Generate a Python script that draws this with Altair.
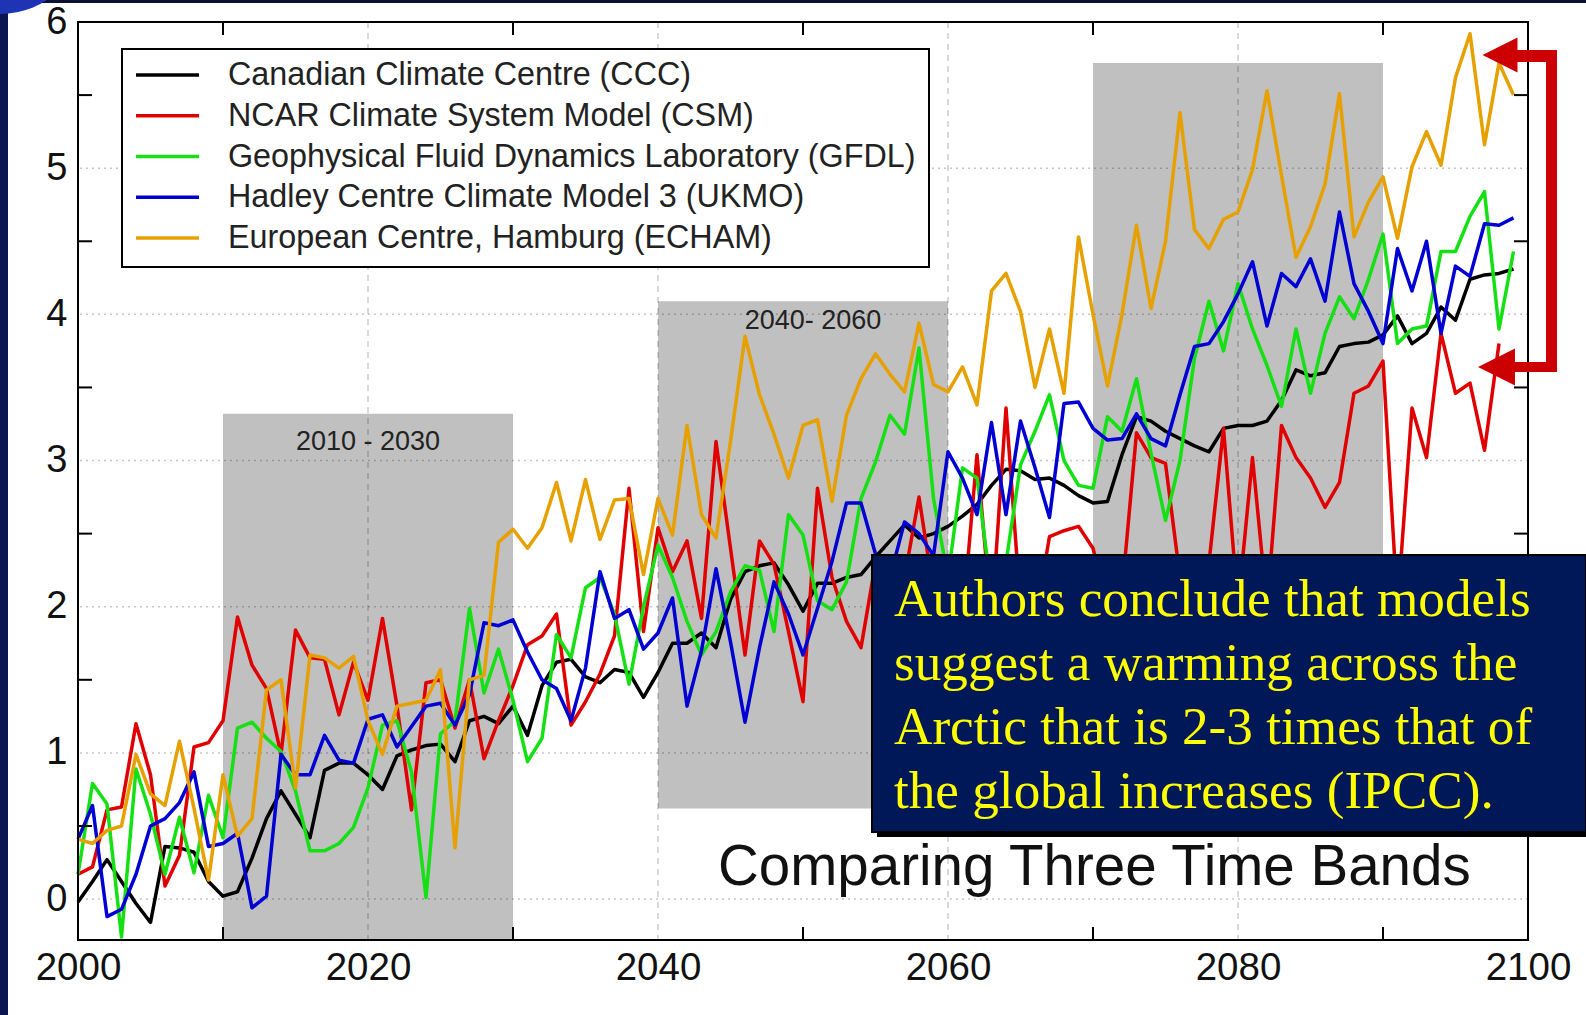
import altair as alt
import pandas as pd

# ---------------------------------------------------------------------------
# Data: projected Arctic warming (deg C) from five climate models, 2000-2099
# ---------------------------------------------------------------------------
YEARS = list(range(2000, 2100))

SERIES = [
    "Canadian Climate Centre (CCC)",
    "NCAR Climate System Model (CSM)",
    "Geophysical Fluid Dynamics Laboratory (GFDL)",
    "Hadley Centre Climate Model 3 (UKMO)",
    "European Centre, Hamburg (ECHAM)",
]
COLORS = ["#000000", "#e00000", "#14e014", "#0000d2", "#e6a000"]

CCC = [
    -0.02, 0.12, 0.27, 0.12, -0.03, -0.16, 0.36, 0.35, 0.32, 0.12,
    0.02, 0.05, 0.28, 0.55, 0.74, 0.58, 0.42, 0.88, 0.93, 0.93,
    0.85, 0.75, 0.98, 1.02, 1.05, 1.06, 0.94, 1.22, 1.25, 1.20,
    1.32, 1.12, 1.46, 1.62, 1.64, 1.52, 1.48, 1.57, 1.55, 1.38,
    1.55, 1.75, 1.75, 1.82, 1.72, 2.05, 2.24, 2.28, 2.30, 2.15,
    1.97, 2.16, 2.16, 2.20, 2.22, 2.34, 2.45, 2.56, 2.47, 2.50,
    2.55, 2.62, 2.70, 2.83, 2.94, 2.93, 2.87, 2.88, 2.83, 2.76,
    2.71, 2.72, 3.04, 3.30, 3.27, 3.20, 3.15, 3.10, 3.06, 3.22,
    3.24, 3.24, 3.27, 3.41, 3.62, 3.58, 3.60, 3.78, 3.80, 3.81,
    3.86, 3.99, 3.80, 3.87, 4.05, 3.96, 4.24, 4.27, 4.28, 4.31,
]
CSM = [
    0.17, 0.22, 0.61, 0.63, 1.20, 0.85, 0.09, 0.30, 1.04, 1.07,
    1.22, 1.93, 1.60, 1.44, 0.99, 1.84, 1.65, 1.64, 1.26, 1.62,
    1.36, 1.92, 1.32, 0.61, 1.48, 1.50, 1.17, 1.50, 0.96, 1.22,
    1.46, 1.74, 1.80, 1.95, 1.19, 1.35, 1.54, 1.80, 2.81, 1.83,
    2.54, 2.24, 2.45, 1.92, 3.13, 2.40, 1.67, 2.45, 2.29, 1.83,
    1.35, 2.81, 2.20, 1.90, 1.72, 2.30, 1.95, 2.20, 2.75, 2.10,
    2.30, 1.90, 3.04, 1.90, 3.36, 2.00, 1.90, 2.48, 2.52, 2.55,
    2.40, 2.00, 2.10, 3.19, 3.02, 2.98, 2.20, 2.00, 2.30, 3.22,
    2.00, 3.02, 2.00, 3.24, 3.02, 2.88, 2.68, 2.85, 3.46, 3.51,
    3.68, 2.00, 3.36, 3.02, 3.87, 3.46, 3.53, 3.07, 3.80,
]
GFDL = [
    0.17, 0.79, 0.65, -0.26, 0.89, 0.58, 0.17, 0.56, 0.18, 0.71,
    0.42, 1.17, 1.21, 1.10, 1.01, 0.74, 0.33, 0.33, 0.38, 0.49,
    0.76, 1.19, 1.22, 0.87, 0.01, 1.13, 1.22, 1.99, 1.41, 1.71,
    1.36, 0.94, 1.10, 1.81, 1.65, 2.13, 2.20, 1.95, 1.47, 2.00,
    2.42, 2.20, 1.90, 1.67, 1.83, 2.10, 2.28, 2.25, 1.83, 2.63,
    2.49, 2.04, 1.98, 2.17, 2.74, 2.99, 3.31, 3.18, 3.77, 2.74,
    2.20, 2.95, 2.88, 2.10, 2.30, 2.97, 3.20, 3.45, 3.00, 2.83,
    2.81, 3.30, 3.20, 3.56, 3.05, 2.59, 3.00, 3.70, 4.09, 3.75,
    4.21, 3.90, 3.65, 3.37, 3.90, 3.46, 3.87, 4.12, 3.97, 4.24,
    4.55, 3.80, 3.90, 3.92, 4.43, 4.43, 4.67, 4.84, 3.90, 4.43,
]
UKMO = [
    0.41, 0.64, -0.12, -0.07, 0.17, 0.50, 0.55, 0.66, 0.87, 0.36,
    0.38, 0.45, -0.06, 0.02, 0.99, 0.85, 0.85, 1.12, 0.95, 0.93,
    1.23, 1.26, 1.04, 1.18, 1.32, 1.34, 1.19, 1.40, 1.89, 1.87,
    1.91, 1.69, 1.50, 1.44, 1.22, 1.58, 2.24, 1.92, 1.98, 1.71,
    1.82, 2.06, 1.32, 1.70, 2.26, 1.76, 1.21, 1.72, 2.17, 1.95,
    1.67, 1.99, 2.31, 2.71, 2.71, 2.36, 2.20, 2.58, 2.50, 2.35,
    3.06, 2.88, 2.63, 3.26, 2.63, 3.27, 2.95, 2.61, 3.39, 3.40,
    3.22, 3.14, 3.15, 3.32, 3.15, 3.10, 3.45, 3.78, 3.80, 3.95,
    4.14, 4.36, 3.92, 4.28, 4.19, 4.38, 4.09, 4.70, 4.21, 4.02,
    3.80, 4.45, 4.16, 4.50, 3.87, 4.33, 4.26, 4.62, 4.61, 4.66,
]
ECHAM = [
    0.41, 0.38, 0.47, 0.50, 0.99, 0.72, 0.64, 1.08, 0.62, 0.13,
    0.85, 0.43, 0.55, 1.43, 1.50, 0.76, 1.67, 1.65, 1.58, 1.66,
    1.22, 0.99, 1.32, 1.34, 1.36, 1.57, 0.35, 1.50, 1.53, 2.44,
    2.53, 2.40, 2.54, 2.85, 2.45, 2.87, 2.46, 2.73, 2.74, 2.22,
    2.74, 2.49, 3.24, 2.63, 2.47, 3.13, 3.85, 3.45, 3.18, 2.88,
    3.24, 3.28, 2.72, 3.31, 3.56, 3.73, 3.59, 3.47, 3.94, 3.52,
    3.47, 3.64, 3.38, 4.16, 4.28, 4.02, 3.50, 3.90, 3.46, 4.53,
    4.00, 3.51, 4.00, 4.61, 4.04, 4.50, 5.38, 4.58, 4.45, 4.65,
    4.70, 4.99, 5.53, 4.95, 4.39, 4.60, 4.89, 5.51, 4.53, 4.77,
    4.94, 4.52, 5.01, 5.25, 5.02, 5.62, 5.92, 5.16, 5.72, 5.50,
]

# Highlighted time bands
BAND_START = [2010, 2040, 2070]
BAND_END = [2030, 2060, 2090]
BAND_TOP = [3.32, 4.09, 5.72]
BAND_BOTTOM = [-0.28, 0.62, 0.62]
BAND_LABELS = ["2010 - 2030", "2040- 2060", ""]

# Axes, ticks and grid
Y_LABELS = [0, 1, 2, 3, 4, 5, 6]
X_LABELS = [2000, 2020, 2040, 2060, 2080, 2100]
Y_MINOR = [0.5, 1.5, 2.5, 3.5, 4.5, 5.5]
X_MINOR = [2010, 2030, 2050, 2070, 2090]
Y_GRID = [0, 1, 2, 3, 4, 5]
X_GRID = [2020, 2040, 2060, 2080]

NOTE = [
    "Authors conclude that models",
    "suggest a warming across the",
    "Arctic that is 2-3 times that of",
    "the global increases (IPCC).",
]
SUBTITLE = "Comparing Three Time Bands"

# ---------------------------------------------------------------------------
SANS = "Liberation Sans, Arial, Helvetica, sans-serif"
SERIF = "Liberation Serif, Times New Roman, serif"
W, H = 1450, 918

xs = alt.Scale(domain=[2000, 2100], nice=False, zero=False)
ys = alt.Scale(domain=[-0.28, 6], nice=False, zero=False)
X_AX = alt.Axis(values=X_LABELS, format="d", title=None, ticks=False, tickSize=0,
                domain=False, grid=False, labelFont=SANS, labelFontSize=38.5,
                labelColor="#111111", labelPadding=9, labelFlush=False,
                labelOverlap=False)
Y_AX = alt.Axis(values=Y_LABELS, format="d", title=None, ticks=False, tickSize=0,
                domain=False, grid=False, labelFont=SANS, labelFontSize=38,
                labelColor="#111111", labelPadding=11, labelFlush=False,
                labelOverlap=False)

one = pd.DataFrame({"k": [0]})


def px_rect(x, x2, y, y2, **kw):
    return alt.Chart(one).mark_rect(**kw).encode(
        x=alt.value(x), x2=alt.value(x2), y=alt.value(y), y2=alt.value(y2))


def px_rule(x, x2, y, y2, **kw):
    return alt.Chart(one).mark_rule(**kw).encode(
        x=alt.value(x), x2=alt.value(x2), y=alt.value(y), y2=alt.value(y2))


def px_text(txt, x, y, **kw):
    return alt.Chart(one).mark_text(**kw).encode(
        x=alt.value(x), y=alt.value(y), text=alt.value(txt))


layers = []

# Slide frame around the figure
layers.append(px_rect(-78, -70, -22, 993, fill="#0b1650"))
layers.append(px_rect(-78, W + 58, -22, -19, fill="#0a0f35"))
layers.append(alt.Chart(one).mark_point(shape="circle", filled=True, size=29584,
                                         color="#1f33b5", opacity=1, strokeWidth=0)
              .encode(x=alt.value(-78), y=alt.value(-94)))

# Time bands
band_df = pd.DataFrame({"start": BAND_START, "end": BAND_END, "top": BAND_TOP,
                        "bottom": BAND_BOTTOM, "label": BAND_LABELS,
                        "idx": list(range(len(BAND_START)))})
layers.append(alt.Chart(band_df).mark_rect(color="#c0c0c0").encode(
    x=alt.X("start:Q", scale=xs, axis=X_AX), x2="end:Q",
    y=alt.Y("top:Q", scale=ys, axis=Y_AX), y2="bottom:Q"))

# Grid lines
layers.append(alt.Chart(pd.DataFrame({"v": Y_GRID})).mark_rule(
    color="#000000", opacity=0.22, strokeWidth=1.5, strokeDash=[2, 4]).encode(
    y=alt.Y("v:Q", scale=ys, axis=Y_AX)))
layers.append(alt.Chart(pd.DataFrame({"yr": X_GRID})).mark_rule(
    color="#000000", opacity=0.2, strokeWidth=1.5, strokeDash=[6, 5]).encode(
    x=alt.X("yr:Q", scale=xs, axis=X_AX)))

# Model curves (drawn in legend order, last on top)
rows = []
for name, vals in zip(SERIES, [CCC, CSM, GFDL, UKMO, ECHAM]):
    for yr, v in zip(YEARS, vals):
        rows.append({"year": yr, "value": v, "model": name})
lines_df = pd.DataFrame(rows)
for name in SERIES:
    layers.append(alt.Chart(lines_df).transform_filter(
        alt.datum.model == name).mark_line(strokeWidth=3.5, strokeJoin="round").encode(
        x=alt.X("year:Q", scale=xs, axis=X_AX),
        y=alt.Y("value:Q", scale=ys, axis=Y_AX),
        color=alt.Color("model:N", scale=alt.Scale(domain=SERIES, range=COLORS),
                        legend=None)))

# Inward ticks on all four sides
ymin_df = pd.DataFrame({"v": Y_MINOR})
xmin_df = pd.DataFrame({"yr": X_MINOR})
for a, b in [(0, 14), (W - 14, W)]:
    layers.append(alt.Chart(ymin_df).mark_rule(color="#000000", strokeWidth=2).encode(
        y=alt.Y("v:Q", scale=ys, axis=Y_AX), x=alt.value(a), x2=alt.value(b)))
for a, b in [(0, 13), (H - 13, H)]:
    layers.append(alt.Chart(xmin_df).mark_rule(color="#000000", strokeWidth=2).encode(
        x=alt.X("yr:Q", scale=xs, axis=X_AX), y=alt.value(a), y2=alt.value(b)))

# Plot frame
layers.append(px_rect(0, W, 0, H, fillOpacity=0, stroke="#000000", strokeWidth=2))

# Band captions
for i, (lab, dx, dy) in enumerate(zip(BAND_LABELS, [0, 10, 0], [28, 20, 0])):
    if not lab:
        continue
    layers.append(alt.Chart(band_df).transform_filter(alt.datum.idx == i)
                  .transform_calculate(mid="(datum.start + datum.end) / 2")
                  .mark_text(font=SANS, fontSize=27, color="#222222",
                             baseline="middle", dx=dx, dy=dy)
                  .encode(x=alt.X("mid:Q", scale=xs, axis=X_AX),
                          y=alt.Y("top:Q", scale=ys, axis=Y_AX),
                          text="label:N"))

# Legend box
layers.append(px_rect(44, 851, 27, 245, fill="#ffffff", stroke="#000000", strokeWidth=2))
for i, (name, col) in enumerate(zip(SERIES, COLORS)):
    yy = 53 + 40.75 * i
    layers.append(px_rule(58, 121, yy, yy, color=col, strokeWidth=3.5))
    layers.append(px_text(name, 150, yy, font=SANS, fontSize=32.3, color="#222222",
                          align="left", baseline="middle"))

# Annotation box
layers.append(px_rect(799, 1513, 538, 815, fill="#000000"))
layers.append(px_rect(794, 1508, 533, 810, fill="#001858", stroke="#000000", strokeWidth=2))
for i, line in enumerate(NOTE):
    layers.append(px_text(line, 816, 594 + 64 * i, font=SERIF, fontSize=53.2,
                          color="#ffff00", align="left", baseline="alphabetic"))

layers.append(px_text(SUBTITLE, 640, 863, font=SANS, fontSize=56.5, color="#111111",
                      align="left", baseline="alphabetic"))

# Red bracket with arrows
RED = "#cc0000"
layers.append(px_rule(1473.5, 1473.5, 28, 350, color=RED, strokeWidth=11))
layers.append(px_rule(1439, 1479, 34, 34, color=RED, strokeWidth=12))
layers.append(px_rule(1436, 1479, 345, 345, color=RED, strokeWidth=10))
arrow = "M-1,0L1,-1L1,1Z"
layers.append(alt.Chart(one).mark_point(shape=arrow, filled=True, size=1225, color=RED,
                                         opacity=1, strokeWidth=0)
              .encode(x=alt.value(1422), y=alt.value(33)))
layers.append(alt.Chart(one).mark_point(shape=arrow, filled=True, size=1369, color=RED,
                                         opacity=1, strokeWidth=0)
              .encode(x=alt.value(1418.5), y=alt.value(345)))

chart = alt.layer(*layers).properties(
    width=W, height=H,
    padding={"left": 78, "top": 22, "right": 58, "bottom": 75},
    autosize=alt.AutoSizeParams(type="none"),
    background="#ffffff",
).configure_view(strokeWidth=0)

chart.save("out.html", embed_options={"renderer": "svg", "actions": False})
